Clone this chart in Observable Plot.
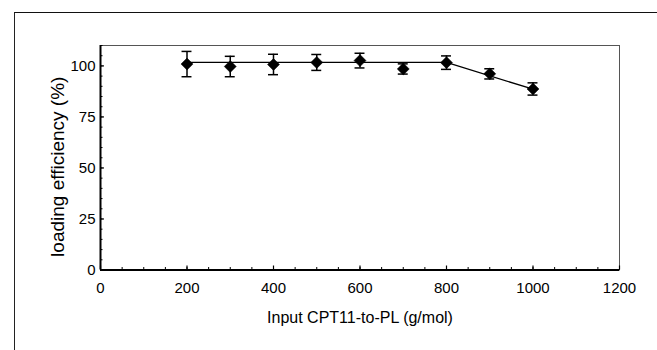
<!DOCTYPE html>
<html>
<head>
<meta charset="utf-8">
<script src="https://cdn.jsdelivr.net/npm/d3@7"></script>
<script src="https://cdn.jsdelivr.net/npm/@observablehq/plot@0.6"></script>
<style>
  html, body { margin: 0; padding: 0; background: #fff; overflow: hidden; width: 657px; height: 350px; }
  #wrap { position: relative; width: 657px; height: 350px; }
  #outer { position: absolute; left: 14px; top: 12px; width: 700px; height: 400px; border-left: 1.5px solid #222; border-top: 1.5px solid #111; }
  #chart { position: absolute; left: 0; top: 0; }
</style>
</head>
<body>
<div id="wrap"><div id="outer"></div><div id="chart"></div></div>
<script>
// Data
const inputRatio = [200, 300, 400, 500, 600, 700, 800, 900, 1000];
const efficiency = [100.9, 99.7, 100.7, 101.7, 102.6, 98.5, 101.6, 96.1, 88.7];
const errorSD    = [6.2, 5.0, 5.0, 3.9, 3.6, 2.5, 3.3, 2.5, 3.0];
const fitX = [200, 800, 1000];
const fitY = [101.7, 101.7, 88.6];
const xTicks = [0, 200, 400, 600, 800, 1000, 1200];
const yTicks = [0, 25, 50, 75, 100];
const xMinor = d3.range(0, 1201, 50);
const yMinor = d3.range(0, 111, 5);
const xLabel = "Input CPT11-to-PL (g/mol)";
const yLabel = "loading efficiency (%)";

const points = inputRatio.map((x, i) => ({x, y: efficiency[i], e: errorSD[i]}));
const fit = fitX.map((x, i) => ({x, y: fitY[i]}));
const capHalf = 11.5;

const font = "'Liberation Sans', Arial, Helvetica, sans-serif";

const chart = Plot.plot({
  width: 657,
  height: 350,
  marginLeft: 100,
  marginRight: 38,
  marginTop: 45,
  marginBottom: 80.5,
  style: {fontFamily: font, background: "transparent", color: "#000"},
  x: {domain: [0, 1200]},
  y: {domain: [0, 110]},
  marks: [
    Plot.frame({stroke: "#555", strokeWidth: 1}),
    // minor ticks
    Plot.axisX({ticks: xMinor, tickSize: -2.5, text: null, label: null, anchor: "bottom", strokeWidth: 1}),
    Plot.axisY({ticks: yMinor, tickSize: -2.5, text: null, label: null, anchor: "left", strokeWidth: 1}),
    // major ticks + labels
    Plot.axisX({ticks: xTicks, tickFormat: d => String(d), tickSize: -4, tickPadding: 16, label: null, anchor: "bottom", fontSize: 15, strokeWidth: 1.2}),
    Plot.axisY({ticks: yTicks, tickFormat: d => String(d), tickSize: -4, tickPadding: 9, label: null, anchor: "left", fontSize: 15, strokeWidth: 1.2}),
    Plot.ruleX([0], {stroke: "#000", strokeWidth: 2}),
    Plot.ruleY([0], {stroke: "#000", strokeWidth: 2}),
    // fitted line
    Plot.line(fit, {x: "x", y: "y", stroke: "#000", strokeWidth: 1.3}),
    // error bars
    Plot.ruleX(points, {x: "x", y1: d => d.y - d.e, y2: d => d.y + d.e, stroke: "#000", strokeWidth: 1.5}),
    Plot.ruleY(points, {y: d => d.y + d.e, x1: d => d.x - capHalf, x2: d => d.x + capHalf, stroke: "#000", strokeWidth: 1.5}),
    Plot.ruleY(points, {y: d => d.y - d.e, x1: d => d.x - capHalf, x2: d => d.x + capHalf, stroke: "#000", strokeWidth: 1.5}),
    // markers
    Plot.dot(points, {x: "x", y: "y", symbol: "diamond2", r: 5.4, fill: "#000", stroke: "#000", strokeWidth: 0.5}),
    // axis titles
    Plot.text([xLabel], {text: d => d, frameAnchor: "bottom", textAnchor: "middle", lineAnchor: "middle", dy: 47.5, fontSize: 16, fill: "#000"}),
    Plot.text([yLabel], {text: d => d, frameAnchor: "left", textAnchor: "middle", lineAnchor: "middle", rotate: -90, dx: -43, dy: 9, fontSize: 19, fill: "#000"})
  ]
});
document.getElementById("chart").appendChild(chart);
</script>
</body>
</html>
